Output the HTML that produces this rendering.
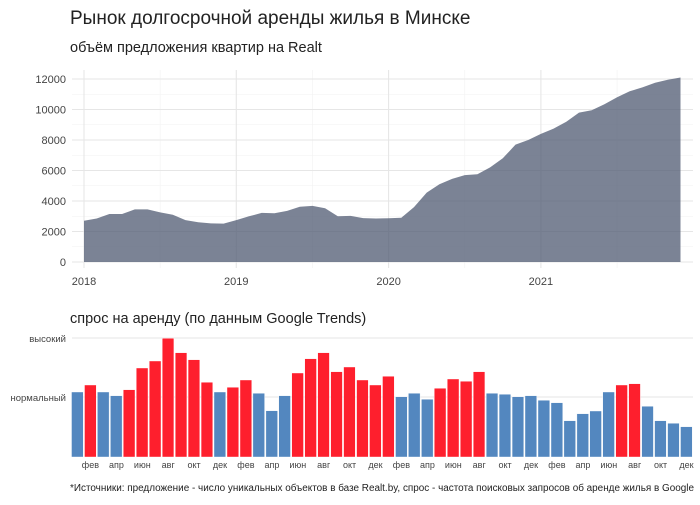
<!DOCTYPE html>
<html><head><meta charset="utf-8"><style>
body{margin:0;background:#fff;}
svg text{font-family:"Liberation Sans",sans-serif;}
</style></head><body>
<svg width="700" height="500" xmlns="http://www.w3.org/2000/svg">
<rect width="700" height="500" fill="#fff"/>
<text x="70" y="24" font-size="19" fill="#222">Рынок долгосрочной аренды жилья в Минске</text>
<text x="70" y="52" font-size="14.5" fill="#222">объём предложения квартир на Realt</text>
<g id="gtop"></g>
<text x="70" y="323" font-size="14.5" fill="#222">спрос на аренду (по данным Google Trends)</text>
<g id="gbot"></g>
<text x="70" y="491" font-size="9.7" fill="#222" textLength="624" lengthAdjust="spacingAndGlyphs">*Источники: предложение - число уникальных объектов в базе Realt.by, спрос - частота поисковых запросов об аренде жилья в Google</text>
</svg>
<script>
(function(){
const ns="http://www.w3.org/2000/svg";
function el(p,t,a,txt){const e=document.createElementNS(ns,t);for(const k in a)e.setAttribute(k,a[k]);if(txt!==undefined)e.textContent=txt;p.appendChild(e);return e;}
const gTop=document.getElementById("gtop");
const X0=84,YR=152.3,Y0=262,K=30.5/2000;
const L=72,R=693;
for(let v=1000;v<=12000;v+=2000)el(gTop,"line",{x1:L,x2:R,y1:Y0-v*K,y2:Y0-v*K,stroke:"#f2f2f2","stroke-width":0.6});
for(let i=-0.5;i<=4;i+=1){const x=X0+i*YR;if(x>=L&&x<=R)el(gTop,"line",{x1:x,x2:x,y1:70,y2:268,stroke:"#f2f2f2","stroke-width":0.6});}
for(let v=0;v<=12000;v+=2000){el(gTop,"line",{x1:L,x2:R,y1:Y0-v*K,y2:Y0-v*K,stroke:"#e6e6e6","stroke-width":1.1});el(gTop,"text",{x:66,y:Y0-v*K+4,"font-size":11,fill:"#444","text-anchor":"end"},v);}
for(let i=0;i<4;i++){const x=X0+i*YR;el(gTop,"line",{x1:x,x2:x,y1:70,y2:268,stroke:"#e6e6e6","stroke-width":1.1});el(gTop,"text",{x:x,y:285,"font-size":11,fill:"#444","text-anchor":"middle"},2018+i);}
const vals=[2700,2850,3150,3150,3450,3450,3250,3100,2750,2600,2530,2520,2750,3000,3220,3200,3350,3620,3680,3530,3000,3020,2880,2850,2870,2900,3600,4550,5100,5450,5700,5750,6200,6800,7700,8000,8400,8750,9200,9800,9950,10350,10800,11200,11450,11750,11950,12100];
const st=YR/12;let d=`M${X0},${Y0}`;vals.forEach((v,i)=>{d+=` L${(X0+i*st).toFixed(1)},${(Y0-v*K).toFixed(1)}`;});d+=` L${(X0+47*st).toFixed(1)},${Y0} Z`;
el(gTop,"path",{d:d,fill:"#4f5a72","fill-opacity":0.75});
const gBot=document.getElementById("gbot");
el(gBot,"line",{x1:L,x2:R,y1:338,y2:338,stroke:"#e6e6e6","stroke-width":1.1});
el(gBot,"line",{x1:L,x2:R,y1:397,y2:397,stroke:"#e6e6e6","stroke-width":1.1});
el(gBot,"text",{x:66,y:342,"font-size":9.5,fill:"#444","text-anchor":"end"},"высокий");
el(gBot,"text",{x:66,y:401,"font-size":9.5,fill:"#444","text-anchor":"end"},"нормальный");
const tops=[392,385,392,395.7,389.7,368,361,338.3,352.7,359.7,382.3,392,387.3,380,393.3,410.7,395.7,373,358.7,352.7,371.7,367,380,385,376.3,396.7,393.3,399.3,388.3,379,381.3,371.7,393.3,394.3,396.7,395.7,400.3,402.7,420.7,413.7,411,392,385,383.7,406.3,420.7,423.3,426.7];
const red=t=>t<390;
const bs=(693-71)/48;const mon=["фев","апр","июн","авг","окт","дек"];
tops.forEach((t,i)=>{const x=71+i*bs;el(gBot,"rect",{x:(x+0.5).toFixed(1),y:t,width:(bs-1.3).toFixed(1),height:457-t,fill:red(t)?"#fe1f2d":"#5387bf",stroke:"#fff","stroke-width":0.4});
if(i%2==1)el(gBot,"text",{x:(x+bs/2).toFixed(1),y:468,"font-size":9,fill:"#444","text-anchor":"middle"},mon[((i-1)/2)%6]);});
})();
</script>
</body></html>
